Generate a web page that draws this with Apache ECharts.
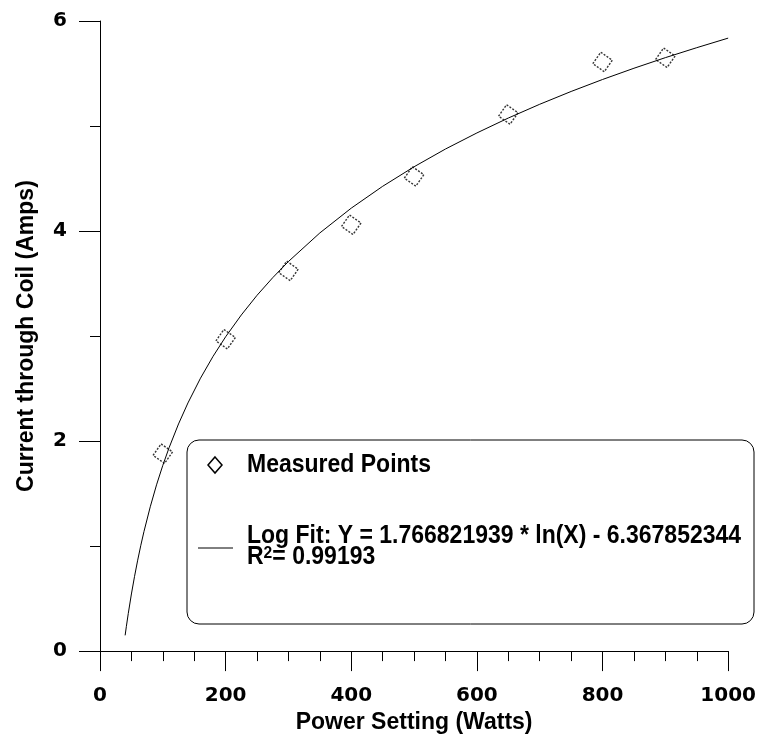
<!DOCTYPE html>
<html>
<head>
<meta charset="utf-8">
<script src="https://cdn.jsdelivr.net/npm/echarts@6/dist/echarts.min.js"></script>
<style>
  html, body { margin: 0; padding: 0; background: #fff; }
  #chart { width: 759px; height: 739px; }
</style>
</head>
<body>
<div id="chart"></div>
<script>
// Measured coil current at each power setting
const powerWatts = [100, 200, 300, 400, 500, 650, 800, 900];
const currentAmps = [1.88, 2.97, 3.62, 4.06, 4.52, 5.11, 5.61, 5.65];

// Logarithmic fit curve, sampled along the power range
const fitWatts = [40, 42, 45, 50, 55, 60, 65, 70, 80, 90, 100, 110, 125, 140, 160, 180, 200, 225, 250, 275,
                  300, 350, 400, 450, 500, 550, 600, 650, 700, 750, 800, 850, 900, 950, 1000];
const fitAmps = [0.150, 0.236, 0.358, 0.544, 0.712, 0.866, 1.008, 1.139, 1.374, 1.583, 1.769, 1.937, 2.163, 2.363,
                 2.599, 2.807, 2.993, 3.201, 3.388, 3.556, 3.710, 3.982, 4.218, 4.426, 4.612, 4.781, 4.934, 5.076,
                 5.207, 5.329, 5.443, 5.550, 5.651, 5.746, 5.837];

// Legend texts
const measuredLabel = 'Measured Points';
const fitLabel = 'Log Fit: Y = 1.766821939 * ln(X) - 6.367852344';
const r2Value = '0.99193';

const xName = 'Power Setting (Watts)';
const yName = 'Current through Coil (Amps)';

const tickFont = { fontFamily: 'DejaVu Sans', fontWeight: 'bold', fontSize: 20, color: '#000' };
const nameFont = { fontFamily: 'Liberation Sans', fontWeight: 'bold', fontSize: 23, color: '#000' };
const legendFont = 'bold 25px "Liberation Sans"';
const squeeze = 0.92;

const chart = echarts.init(document.getElementById('chart'), null, { renderer: 'canvas' });

chart.setOption({
  backgroundColor: '#fff',
  animation: false,
  grid: { left: 100, right: 27, top: 21, bottom: 86, containLabel: false },
  xAxis: {
    type: 'value',
    min: 0, max: 1000, interval: 200,
    name: xName,
    nameLocation: 'middle',
    nameGap: 56,
    nameTextStyle: nameFont,
    axisLine: { show: true, onZero: false, lineStyle: { color: '#000', width: 1 } },
    axisTick: { show: true, inside: false, length: 20, lineStyle: { color: '#000', width: 1 } },
    minorTick: { show: true, splitNumber: 4, length: 10, lineStyle: { color: '#000', width: 1 } },
    axisLabel: Object.assign({ margin: 35, formatter: v => String(v) }, tickFont),
    splitLine: { show: false }
  },
  yAxis: {
    type: 'value',
    min: 0, max: 6, interval: 2,
    name: yName,
    nameLocation: 'middle',
    nameGap: 62,
    nameRotate: 90,
    nameTextStyle: nameFont,
    axisLine: { show: true, onZero: false, lineStyle: { color: '#000', width: 1 } },
    axisTick: { show: true, inside: false, length: 21, lineStyle: { color: '#000', width: 1 } },
    minorTick: { show: true, splitNumber: 2, length: 10, lineStyle: { color: '#000', width: 1 } },
    axisLabel: Object.assign({ margin: 33, formatter: v => String(v) }, tickFont),
    splitLine: { show: false }
  },
  series: [
    {
      name: 'Log Fit',
      type: 'line',
      data: fitWatts.map((x, i) => [x, fitAmps[i]]),
      smooth: false,
      showSymbol: false,
      lineStyle: { color: '#000', width: 1 },
      z: 2
    },
    {
      name: measuredLabel,
      type: 'scatter',
      data: powerWatts.map((x, i) => [x, currentAmps[i]]),
      symbol: 'rect',
      symbolSize: 14,
      symbolRotate: -35,
      itemStyle: {
        color: 'rgba(255,255,255,0)',
        borderColor: '#000',
        borderWidth: 1.4,
        borderType: [2, 1.5]
      },
      z: 3
    }
  ],
  graphic: [
    {
      type: 'rect',
      shape: { x: 187, y: 440, width: 567, height: 184, r: 12 },
      style: { fill: '#fff', stroke: '#000', lineWidth: 1 },
      z: 10
    },
    {
      type: 'polygon',
      shape: { points: [[215, 457], [222, 465], [215, 473], [208, 465]] },
      style: { fill: 'none', stroke: '#000', lineWidth: 1.5 },
      z: 11
    },
    {
      type: 'text',
      x: 247, y: 465, scaleX: squeeze,
      style: { text: measuredLabel, font: legendFont, fill: '#000', align: 'left', verticalAlign: 'middle' },
      z: 11
    },
    {
      type: 'line',
      shape: { x1: 198, y1: 548, x2: 233, y2: 548 },
      style: { stroke: '#000', lineWidth: 1 },
      z: 11
    },
    {
      type: 'text',
      x: 247, y: 536, scaleX: squeeze,
      style: { text: fitLabel, font: legendFont, fill: '#000', align: 'left', verticalAlign: 'middle' },
      z: 11
    },
    {
      type: 'text',
      x: 247, y: 557, scaleX: squeeze,
      style: {
        text: '{m|R}{sup|2}{m|= ' + r2Value + '}',
        fill: '#000',
        align: 'left',
        verticalAlign: 'middle',
        rich: {
          m: { fontSize: 25, fontWeight: 'bold', fontFamily: 'Liberation Sans', lineHeight: 25, verticalAlign: 'bottom' },
          sup: { fontSize: 17, fontWeight: 'bold', fontFamily: 'Liberation Sans', lineHeight: 17, verticalAlign: 'top', padding: [0, 0, 10, 0] }
        }
      },
      z: 11
    }
  ]
});
</script>
</body>
</html>
